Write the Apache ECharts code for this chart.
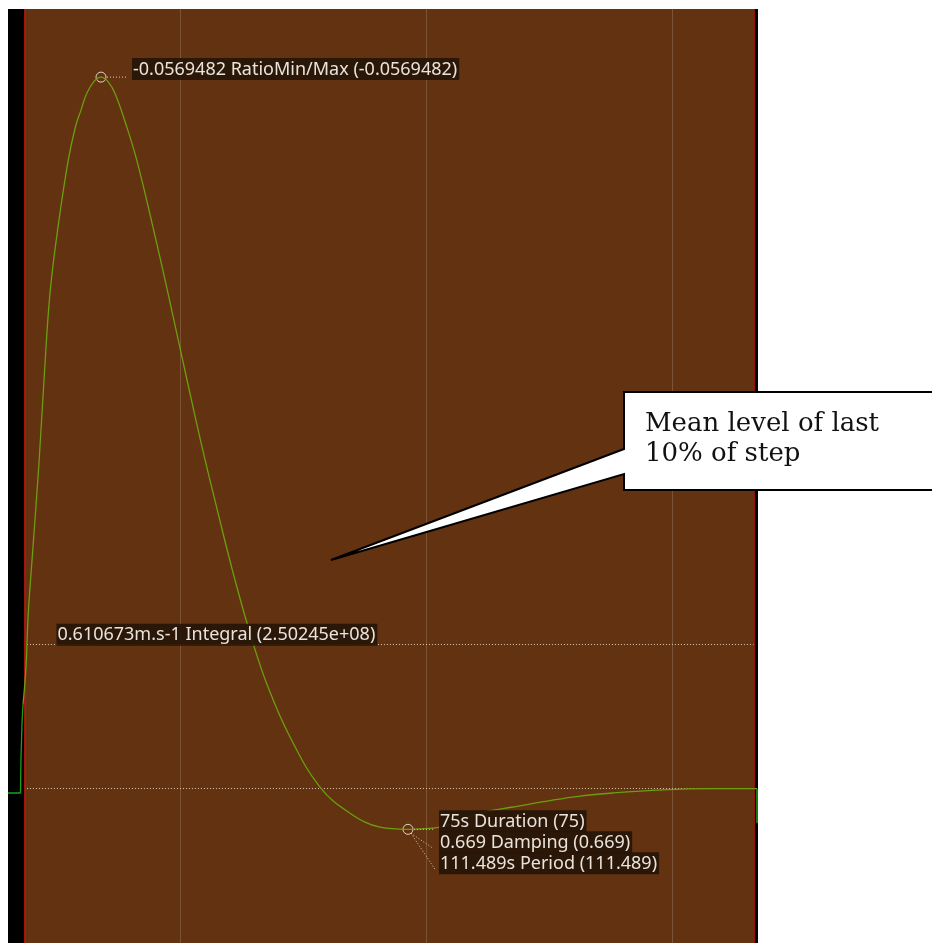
<!DOCTYPE html>
<html>
<head>
<meta charset="utf-8">
<script src="https://cdn.jsdelivr.net/npm/echarts@6/dist/echarts.min.js"></script>
<style>
html,body{margin:0;padding:0;background:#fff;}
#chart{width:932px;height:943px;}
</style>
</head>
<body>
<div id="chart"></div>
<script>
// ---- data (time in s, speed in m/s) ----
// step edge, sampled per pixel (drawn as straight segments)
const edgeTimes  = [15.00, 17.54, 17.64, 17.64, 17.85, 18.05];
const edgeSpeeds = [-0.018, -0.018, -0.018, 0.129, 0.277, 0.353];
// response after the edge
const times  = [18.05, 18.66, 19.13, 20.08, 21.30, 22.32, 23.54, 25.17, 27.26, 28.72, 29.84, 31.00, 32.50, 33.91, 35.30, 36.76, 39.14, 41.17, 44.48, 47.53, 51.40, 54.45, 57.70, 61.16, 64.61, 67.87, 72.34, 78.44, 84.54, 90.64, 96.33, 102.84, 110.97, 117.68, 124.60, 131.31, 138.02, 148.18, 158.35, 167.30];
const speeds = [0.353, 0.514, 0.742, 1.018, 1.372, 1.722, 2.088, 2.366, 2.649, 2.789, 2.859, 2.929, 2.980, 2.998, 2.980, 2.929, 2.789, 2.649, 2.366, 2.088, 1.722, 1.440, 1.162, 0.879, 0.627, 0.428, 0.218, 0.007, -0.103, -0.162, -0.171, -0.162, -0.103, -0.077, -0.052, -0.031, -0.018, -0.005, 0.000, 0.000];
// trailing edge at the end of the record
const tailTimes  = [167.30, 167.30];
const tailSpeeds = [0.000, -0.145];
const stepWindow = [18.35, 166.6];          // start / end of analysed step
const gridTimes = [50, 100, 150];           // vertical grid lines
const finalLevel = 0.0;                     // mean level of last 10% of step
const integralLevel = 0.610673;
const peakPoint = [33.91, 2.998];
const troughPoint = [96.33, -0.171];
const peakLabel = '-0.0569482 RatioMin/Max (-0.0569482)';
const integralLabel = '0.610673m.s-1 Integral (2.50245e+08)';
const troughLabels = ['75s Duration (75)', '0.669 Damping (0.669)', '111.489s Period (111.489)'];
const calloutLines = ['Mean level of last', '10% of step'];
const xRange = [15, 167.5];
const yRange = [-0.65, 3.285];

const chart = echarts.init(document.getElementById('chart'), null, {renderer: 'canvas'});
const zip = (a, b) => a.map((t, i) => [t, b[i]]);

const LABEL_FONT = '18px "Noto Sans"';
const dotted = {color: '#d9cbbb', width: 1, type: [1, 2]};
const GREEN_OUT = '#17a317';
const GREEN_IN = '#6c9e0f';

const option = {
  animation: false,
  backgroundColor: '#ffffff',
  grid: {left: 8, right: 174, top: 9, bottom: 0, show: true, backgroundColor: '#000000', borderWidth: 0},
  xAxis: {type: 'value', min: xRange[0], max: xRange[1], show: false, splitLine: {show: false}},
  yAxis: {type: 'value', min: yRange[0], max: yRange[1], show: false, splitLine: {show: false}},
  series: [
    {
      type: 'line', data: zip(times, speeds), showSymbol: false, z: 5, smooth: 0.4,
      lineStyle: {width: 1.3, color: GREEN_IN},
      markPoint: {
        silent: true,
        symbol: 'circle', symbolSize: 10,
        label: {show: false},
        itemStyle: {color: 'rgba(0,0,0,0)', borderColor: '#e2d6ca', borderWidth: 1},
        data: [{coord: peakPoint}, {coord: troughPoint}]
      }
    },
    {type: 'line', data: zip(edgeTimes, edgeSpeeds), showSymbol: false, z: 5, lineStyle: {width: 1.3, color: GREEN_OUT}},
    {type: 'line', data: zip(tailTimes, tailSpeeds), showSymbol: false, z: 5, lineStyle: {width: 1.5, color: GREEN_OUT}},
    {
      type: 'line', data: [], z: 1, silent: true,
      markArea: {
        silent: true,
        itemStyle: {color: '#623211'},
        data: [[{xAxis: stepWindow[0]}, {xAxis: stepWindow[1]}]]
      },
      markLine: {
        silent: true, symbol: 'none', label: {show: false},
        data: [
          ...gridTimes.map(t => ({xAxis: t, lineStyle: {color: '#7b5437', width: 1, type: 'solid'}})),
          {xAxis: stepWindow[0], lineStyle: {color: '#c4150c', width: 1.5, type: 'solid'}},
          {xAxis: stepWindow[1], lineStyle: {color: '#c4150c', width: 1.5, type: 'solid'}},
          [{coord: [stepWindow[0] + 0.5, integralLevel], lineStyle: dotted}, {coord: [stepWindow[1], integralLevel]}],
          [{coord: [stepWindow[0] + 0.5, finalLevel], lineStyle: dotted}, {coord: [stepWindow[1], finalLevel]}]
        ]
      }
    }
  ]
};
chart.setOption(option);

// ---- annotation labels positioned through the chart's own scales ----
function px(p) { return chart.convertToPixel({gridIndex: 0}, p); }
function labelText(x, y, text) {
  return {
    type: 'text', x: x, y: y, z: 20, silent: true,
    style: {
      text: text, font: LABEL_FONT, fill: '#e9e3dc',
      backgroundColor: 'rgba(38,20,8,0.9)', padding: [2, 2, 1, 1],
      lineHeight: 19, verticalAlign: 'top', align: 'left'
    }
  };
}
function dotLine(x1, y1, x2, y2) {
  return {type: 'line', z: 19, silent: true, shape: {x1, y1, x2, y2},
          style: {stroke: '#d9cbbb', lineWidth: 1, lineDash: [1, 2]}};
}
const pk = px(peakPoint);
const tr = px(troughPoint);
const il = px([stepWindow[0], integralLevel]);
const graphics = [];
graphics.push(dotLine(pk[0] + 6, pk[1], pk[0] + 27, pk[1]));
graphics.push(labelText(pk[0] + 31, pk[1] - 19, peakLabel));
graphics.push(labelText(il[0] + 32, il[1] - 20, integralLabel));
graphics.push(dotLine(tr[0] + 6, tr[1], tr[0] + 27, tr[1]));
graphics.push(dotLine(tr[0] + 3, tr[1] + 4, tr[0] + 25, tr[1] + 19));
graphics.push(dotLine(tr[0] + 3, tr[1] + 4, tr[0] + 27, tr[1] + 40));
troughLabels.forEach((s, i) => graphics.push(labelText(tr[0] + 31, tr[1] - 19 + i * 21, s)));

// callout box with pointer
graphics.push({
  type: 'polygon', z: 30, silent: true,
  shape: {points: [[624, 392], [945, 392], [945, 490], [624, 490], [624, 474], [331, 560], [624, 449]]},
  style: {fill: '#ffffff', stroke: '#000000', lineWidth: 2, lineJoin: 'miter'}
});
graphics.push({
  type: 'text', x: 645, y: 409, z: 31, silent: true,
  style: {text: calloutLines.join('\n'), font: '26px "DejaVu Serif"', fill: '#111111', lineHeight: 30, verticalAlign: 'top'}
});
chart.setOption({graphic: graphics});
</script>
</body>
</html>
